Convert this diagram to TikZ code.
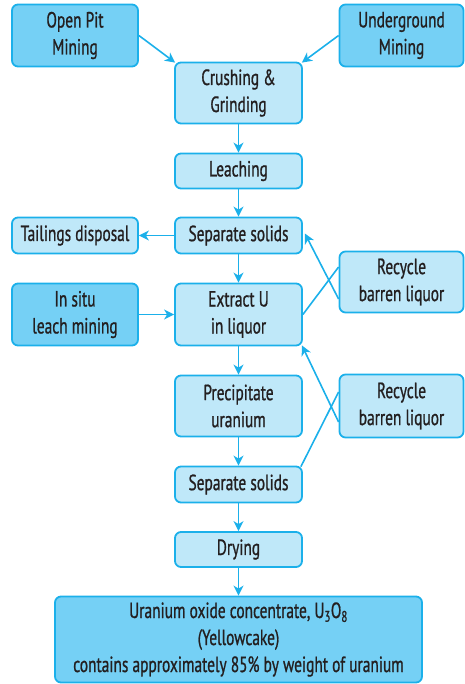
\documentclass[tikz,border=0pt]{standalone}
\usepackage{fontspec}
\setmainfont{PT Sans}[FakeStretch=0.70,FakeBold=0.8]
\usetikzlibrary{arrows.meta}
\definecolor{bordc}{HTML}{1BB0EA}
\definecolor{darkf}{HTML}{75D0F5}
\definecolor{lightf}{HTML}{BFE8F9}
\definecolor{txtc}{HTML}{231F20}
\tikzset{
  boxbase/.style={draw=bordc, line width=1.8pt, rounded corners=6pt, align=center,
    inner sep=0pt, text=txtc, font=\fontsize{22}{27}\selectfont},
  darkbox/.style={boxbase, fill=darkf},
  lightbox/.style={boxbase, fill=lightf},
  arr/.style={draw=bordc, line width=1.6pt, -{Stealth[length=10pt,width=10pt,inset=3pt]}},
  ln/.style={draw=bordc, line width=1.6pt},
}
\begin{document}
\begin{tikzpicture}[x=1pt,y=-1pt]
\useasboundingbox (0,0) rectangle (464,684);
\node[darkbox, minimum width=126pt, minimum height=62pt] (op) at (75,35.5) {Open Pit\\Mining};
\node[darkbox, minimum width=124pt, minimum height=62pt] (ug) at (401.5,35.5) {Underground\\Mining};
\node[lightbox, minimum width=127pt, minimum height=61pt] (cg) at (238.5,93) {Crushing \&\\Grinding};
\node[lightbox, minimum width=127pt, minimum height=35pt] (le) at (238.5,171) {Leaching};
\node[lightbox, minimum width=127pt, minimum height=36pt] (ss1) at (238.5,235.5) {Separate solids};
\node[lightbox, minimum width=126pt, minimum height=36pt] (td) at (75,235.5) {Tailings disposal};
\node[darkbox, minimum width=126pt, minimum height=62pt] (is) at (75,314.5) {In situ\\leach mining};
\node[lightbox, minimum width=127pt, minimum height=62pt] (ex) at (238.5,314.5) {Extract U\\in liquor};
\node[lightbox, minimum width=124pt, minimum height=61pt] (r1) at (401.5,282) {Recycle\\barren liquor};
\node[lightbox, minimum width=124pt, minimum height=63pt] (r2) at (401.5,406) {Recycle\\barren liquor};
\node[lightbox, minimum width=127pt, minimum height=61pt] (pu) at (238.5,406) {Precipitate\\uranium};
\node[lightbox, minimum width=127pt, minimum height=36pt] (ss2) at (238.5,484.5) {Separate solids};
\node[lightbox, minimum width=127pt, minimum height=35pt] (dr) at (238.5,549.5) {Drying};
\node[darkbox, minimum width=367pt, minimum height=86pt] (fin) at (238.5,639.5) {Uranium oxide concentrate, U\textsubscript{3}O\textsubscript{8}\\(Yellowcake)\\contains approximately 85\% by weight of uranium};
\coordinate (cgtl) at ([xshift=1pt,yshift=-1pt]cg.north west);
\coordinate (cgtr) at ([xshift=-1pt,yshift=-1pt]cg.north east);
\draw[arr] (op.east) -- (cgtl);
\draw[arr] (ug.west) -- (cgtr);
\draw[arr] (cg) -- (le);
\draw[arr] (le) -- (ss1);
\draw[arr] (ss1) -- (ex);
\draw[arr] (ss1) -- (td);
\draw[arr] (is) -- (ex);
\draw[arr] (ex) -- (pu);
\draw[arr] (pu) -- (ss2);
\draw[arr] (ss2) -- (dr);
\draw[arr] (dr) -- (fin);
\draw[arr] ([yshift=-17pt]r1.west) -- ([xshift=2pt,yshift=2pt]ss1.east);
\draw[ln] ([yshift=15pt]r1.west) -- (ex.east);
\draw[arr] ([yshift=-16pt]r2.west) -- ([xshift=-1pt,yshift=1pt]ex.south east);
\draw[ln] ([yshift=14pt]r2.west) -- ([xshift=-2pt,yshift=-1pt]ss2.north east);
\end{tikzpicture}
\end{document}
